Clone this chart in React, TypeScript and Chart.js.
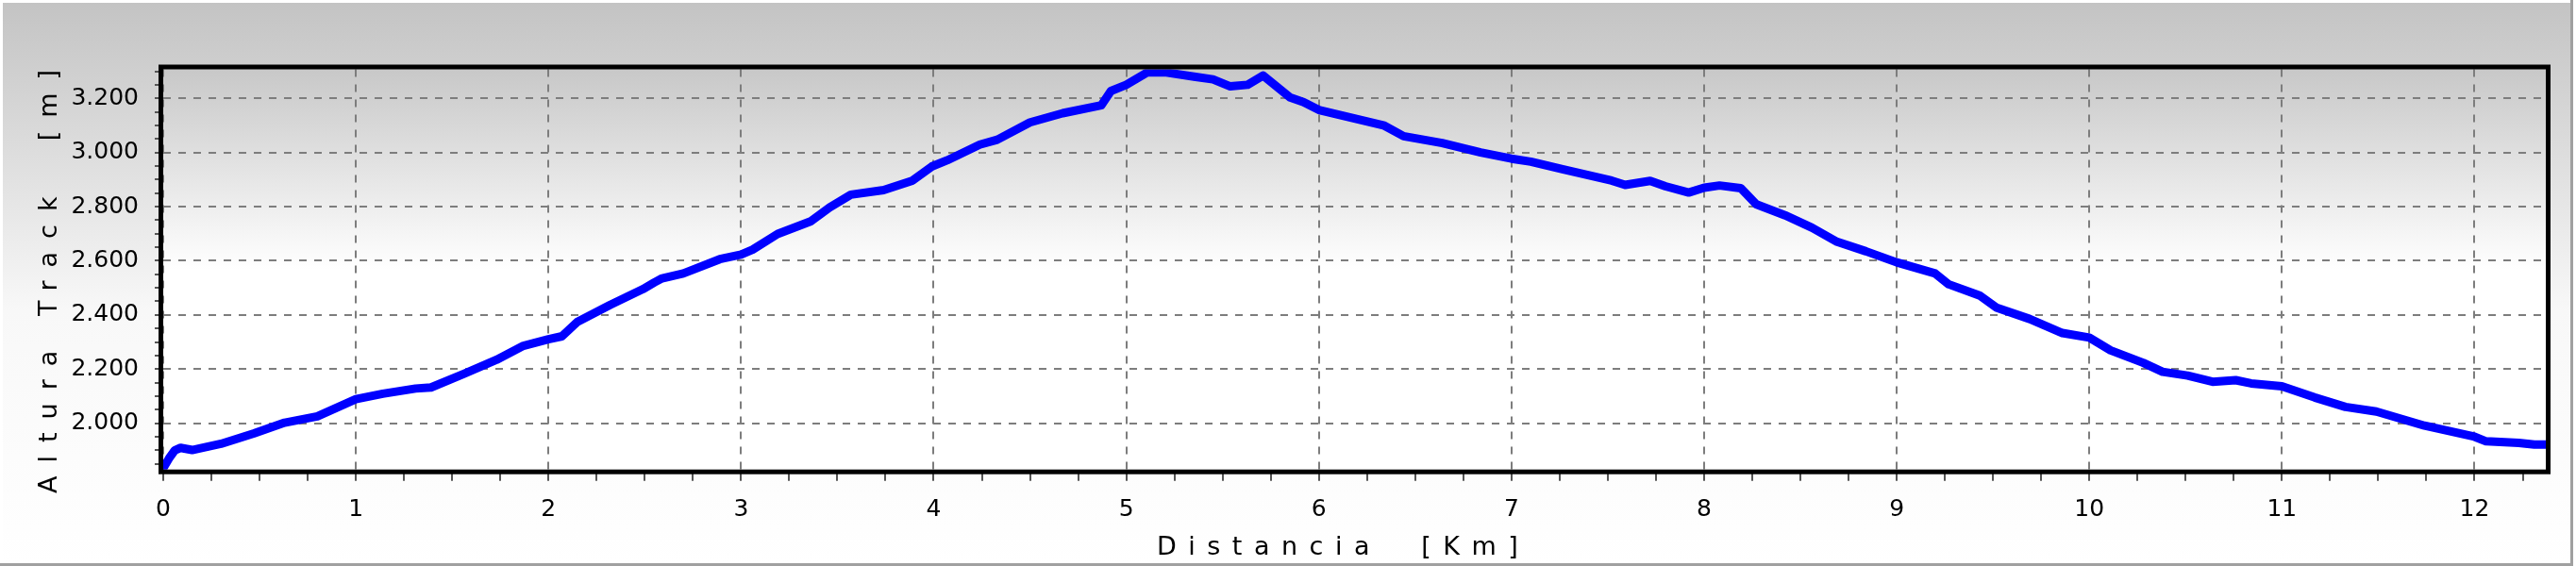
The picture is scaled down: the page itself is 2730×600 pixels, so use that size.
import React, { useEffect, useRef } from 'react';
import { Chart, registerables } from 'chart.js';

Chart.register(...registerables);

// ---- data ----
const distanceKm = [
  0.0, 0.03, 0.06, 0.09, 0.15, 0.3, 0.47, 0.63, 0.8, 1.0, 1.14, 1.31, 1.39, 1.56, 1.73, 1.87,
  2.0, 2.07, 2.15, 2.32, 2.49, 2.55, 2.59, 2.7, 2.89, 3.0, 3.06, 3.19, 3.36, 3.46, 3.57, 3.74,
  3.89, 3.99, 4.07, 4.24, 4.33, 4.5, 4.67, 4.87, 4.92, 5.0, 5.11, 5.2, 5.36, 5.45, 5.54, 5.63,
  5.71, 5.85, 5.92, 6.0, 6.17, 6.34, 6.44, 6.64, 6.84, 7.0, 7.1, 7.27, 7.52, 7.59, 7.72, 7.8,
  7.92, 8.0, 8.08, 8.19, 8.27, 8.42, 8.56, 8.69, 8.84, 9.0, 9.2, 9.27, 9.43, 9.52, 9.69, 9.86,
  10.0, 10.11, 10.28, 10.38, 10.51, 10.64, 10.76, 10.84, 11.0, 11.17, 11.33, 11.49, 11.74, 12.0,
  12.06, 12.23, 12.31, 12.37,
];
const altitudeM = [
  1834, 1870, 1900, 1909, 1901, 1924, 1962, 2002, 2025, 2089, 2109, 2128, 2132, 2182, 2234, 2286,
  2310, 2321, 2374, 2437, 2495, 2520, 2535, 2553, 2606, 2623, 2641, 2699, 2745, 2797, 2844, 2861,
  2896, 2948, 2971, 3029, 3047, 3111, 3145, 3174, 3227, 3250, 3296, 3296, 3279, 3270, 3244, 3250,
  3284, 3203, 3186, 3157, 3128, 3099, 3060, 3035, 3000, 2977, 2966, 2937, 2896, 2880, 2895, 2875,
  2852, 2870, 2878, 2868, 2809, 2768, 2722, 2670, 2635, 2594, 2553, 2513, 2472, 2426, 2385, 2333,
  2316, 2269, 2223, 2190, 2176, 2153, 2159, 2147, 2136, 2095, 2060, 2043, 1991, 1950,
  1933, 1927, 1921, 1921,
];
const xMajorTicks = [0, 1, 2, 3, 4, 5, 6, 7, 8, 9, 10, 11, 12];
const yMajorTicks = [2000, 2200, 2400, 2600, 2800, 3000, 3200];
const xMinorStep = 0.25;
const yMinorStep = 50;
const xRange = [0, 12.37];
const yRange = [1829, 3307];
const xTitle = 'Distancia  [Km]';
const yTitle = 'Altura Track  [m]';

const FONT = 'DejaVu Sans';

const fmtThousands = (v: number) => {
  const t = Math.floor(v / 1000);
  const r = String(Math.round(v % 1000)).padStart(3, '0');
  return `${t}.${r}`;
};

const backdropPlugin = {
  id: 'backdrop',
  beforeDraw(chart: any) {
    const { ctx, width, height, chartArea: a } = chart;
    ctx.save();
    let g = ctx.createLinearGradient(0, 0, 0, height);
    g.addColorStop(0, '#c3c3c3');
    g.addColorStop(0.55, '#f8f8f8');
    g.addColorStop(1, '#ffffff');
    ctx.fillStyle = g;
    ctx.fillRect(0, 0, width, height);
    g = ctx.createLinearGradient(0, a.top, 0, a.bottom);
    g.addColorStop(0, '#c8c8c8');
    g.addColorStop(0.5, '#ffffff');
    g.addColorStop(1, '#ffffff');
    ctx.fillStyle = g;
    ctx.fillRect(a.left, a.top, a.right - a.left, a.bottom - a.top);
    ctx.restore();
  },
  afterDatasetsDraw(chart: any) {
    const { ctx, chartArea: a } = chart;
    ctx.save();
    ctx.strokeStyle = '#000';
    ctx.lineWidth = 5;
    ctx.strokeRect(a.left - 2.5, a.top - 2.5, a.right - a.left + 5, a.bottom - a.top + 5);
    ctx.restore();
  },
  afterDraw(chart: any) {
    const { ctx, width, height } = chart;
    ctx.save();
    // outer frame
    ctx.fillStyle = '#ffffff';
    ctx.fillRect(0, 0, width, 3);
    ctx.fillRect(0, 0, 3, height);
    ctx.fillStyle = '#a0a0a0';
    ctx.fillRect(0, height - 3, width, 3);
    ctx.fillRect(width - 6, 0, 3, height);
    ctx.fillStyle = '#ffffff';
    ctx.fillRect(width - 3, 0, 3, height);
    // titles
    ctx.fillStyle = '#000';
    ctx.font = `27px "${FONT}"`;
    ctx.textAlign = 'left';
    ctx.textBaseline = 'alphabetic';
    (ctx as any).letterSpacing = '12.5px';
    ctx.fillText(xTitle, 1226, 588);
    ctx.translate(60, 523);
    ctx.rotate(-Math.PI / 2);
    (ctx as any).letterSpacing = '14px';
    ctx.fillText(yTitle, 0, 0);
    ctx.restore();
  },
};

export default function App() {
  const ref = useRef<HTMLCanvasElement | null>(null);

  useEffect(() => {
    if (!ref.current) return;
    const points = distanceKm.map((d, i) => ({ x: d, y: altitudeM[i] }));
    const chart = new Chart(ref.current, {
      type: 'line',
      data: {
        datasets: [
          {
            data: points,
            borderColor: '#0000ff',
            borderWidth: 9,
            pointRadius: 0,
            tension: 0,
            borderJoinStyle: 'round',
            borderCapStyle: 'round',
            fill: false,
          } as any,
        ],
      },
      options: {
        responsive: false,
        animation: false,
        devicePixelRatio: 1,
        parsing: false,
        layout: { padding: { left: 0, right: 32, top: 73.5, bottom: 0 } },
        plugins: {
          legend: { display: false },
          tooltip: { enabled: false },
          title: { display: false },
        },
        scales: {
          x: {
            type: 'linear',
            min: xRange[0],
            max: xRange[1],
            afterBuildTicks: (axis: any) => {
              const ticks: any[] = [];
              const n = Math.floor((xRange[1] - xRange[0]) / xMinorStep + 1e-9);
              for (let i = 0; i <= n; i++) ticks.push({ value: xRange[0] + i * xMinorStep });
              axis.ticks = ticks;
            },
            afterFit: (s: any) => {
              s.height = 102.3;
            },
            ticks: {
              autoSkip: false,
              maxRotation: 0,
              minRotation: 0,
              padding: 16,
              color: '#000',
              font: { family: FONT, size: 25 },
              callback: (v: any) => (xMajorTicks.includes(Number(v)) ? String(v) : ''),
            },
            grid: {
              color: (c: any) => (c.tick && xMajorTicks.includes(c.tick.value) ? '#7d7d7d' : 'rgba(0,0,0,0)'),
              lineWidth: 2,
              tickLength: 12,
              tickColor: '#555',
              tickWidth: 2,
            },
            border: { display: false, dash: [8, 8] },
          },
          y: {
            type: 'linear',
            min: yRange[0],
            max: yRange[1],
            afterBuildTicks: (axis: any) => {
              const ticks: any[] = [];
              const start = Math.ceil(yRange[0] / yMinorStep) * yMinorStep;
              for (let v = start; v <= yRange[1]; v += yMinorStep) ticks.push({ value: v });
              axis.ticks = ticks;
            },
            afterFit: (s: any) => {
              s.width = 173;
            },
            ticks: {
              autoSkip: false,
              padding: 17,
              color: '#000',
              font: { family: FONT, size: 25 },
              callback: (v: any) => (yMajorTicks.includes(Number(v)) ? fmtThousands(Number(v)) : ''),
            },
            grid: {
              color: (c: any) => (c.tick && yMajorTicks.includes(c.tick.value) ? '#7d7d7d' : 'rgba(0,0,0,0)'),
              lineWidth: 2,
              tickLength: 9,
              tickColor: '#555',
              tickWidth: 2,
            },
            border: { display: false, dash: [8, 8] },
          },
        },
      } as any,
      plugins: [backdropPlugin as any],
    });
    return () => chart.destroy();
  }, []);

  return (
    <div style={{ position: 'absolute', left: 0, top: 0, width: 2730, height: 600 }}>
      <canvas ref={ref} width={2730} height={600} style={{ display: 'block', width: 2730, height: 600 }} />
    </div>
  );
}
